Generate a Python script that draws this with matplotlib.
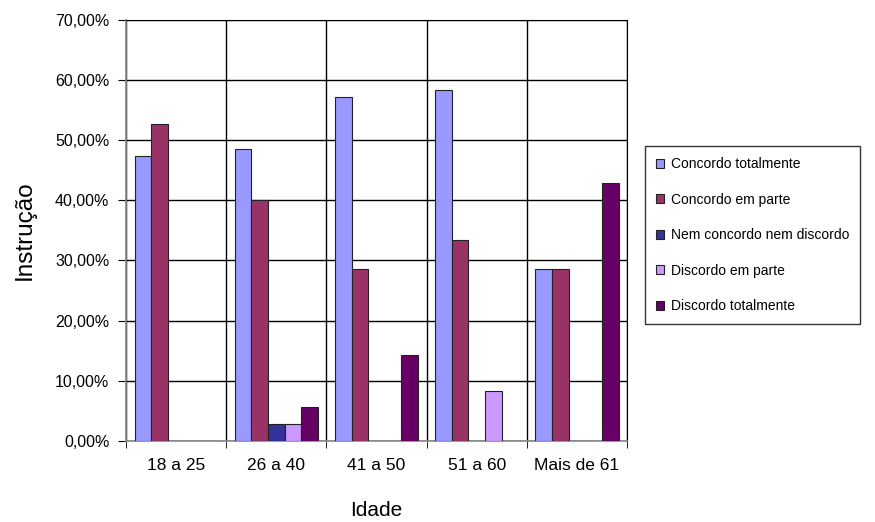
import numpy as np
import matplotlib
matplotlib.use("Agg")
import matplotlib.pyplot as plt
from matplotlib.ticker import FuncFormatter

plt.rcParams.update({
    "font.family": ["Liberation Sans", "DejaVu Sans"],
    "font.size": 10,
})

# ---- dados ----
categorias = ["18 a 25", "26 a 40", "41 a 50", "51 a 60", "Mais de 61"]
series = ["Concordo totalmente", "Concordo em parte",
          "Nem concordo nem discordo", "Discordo em parte",
          "Discordo totalmente"]
concordo_total = [47.37, 48.57, 57.14, 58.33, 28.57]
concordo_parte = [52.63, 40.00, 28.57, 33.33, 28.57]
nem_nem = [0.0, 2.86, 0.0, 0.0, 0.0]
discordo_parte = [0.0, 2.86, 0.0, 8.33, 0.0]
discordo_total = [0.0, 5.71, 14.29, 0.0, 42.86]
valores = [concordo_total, concordo_parte, nem_nem, discordo_parte, discordo_total]
cores = ["#9999FF", "#993366", "#333399", "#CC99FF", "#660066"]

# ---- grafico ----
fig = plt.figure(figsize=(8.75, 5.22), dpi=100)
ax = fig.add_axes([0.144, 0.155, 0.5726, 0.8075])

x = np.arange(len(categorias))
w = 0.166
for k, (nome, vals, cor) in enumerate(zip(series, valores, cores)):
    pos = x + (k - 2) * w
    ax.bar(pos, vals, width=w, color=cor, edgecolor="#222222",
           linewidth=0.8, label=nome, zorder=3)

ax.set_xlim(-0.5, len(categorias) - 0.5)
ax.set_ylim(0, 70)
ax.set_yticks(np.arange(0, 71, 10))
ax.yaxis.set_major_formatter(FuncFormatter(lambda v, p: f"{v:.2f}%".replace(".", ",")))
ax.set_xticks(x)
ax.set_xticklabels(categorias)
ax.set_xticks(np.arange(-0.5, len(categorias), 1), minor=True)
ax.tick_params(axis="x", which="major", length=0, pad=12, labelsize=12.5)
ax.tick_params(axis="x", which="minor", length=5, color="black")
ax.tick_params(axis="y", length=6, pad=6, labelsize=11.5, color="black")

ax.grid(axis="y", which="major", color="black", linewidth=1.0, zorder=0)
ax.grid(axis="x", which="minor", color="black", linewidth=1.0, zorder=0)
for s in ["left", "bottom"]:
    ax.spines[s].set_color("#888888")
    ax.spines[s].set_linewidth(1.2)
for s in ["top", "right"]:
    ax.spines[s].set_color("black")

ax.set_xlabel("Idade", fontsize=15, labelpad=20)
ax.set_ylabel("Instrução", fontsize=17.5, labelpad=14)

leg = ax.legend(loc="upper left", bbox_to_anchor=(1.035, 0.7), fontsize=10,
                frameon=True, fancybox=False, edgecolor="black",
                handlelength=0.6, handleheight=0.6, handletextpad=0.5,
                labelspacing=1.55, borderpad=0.8, borderaxespad=0)
leg.get_frame().set_linewidth(1.0)

fig.savefig("out.png", dpi=100)
plt.close(fig)
